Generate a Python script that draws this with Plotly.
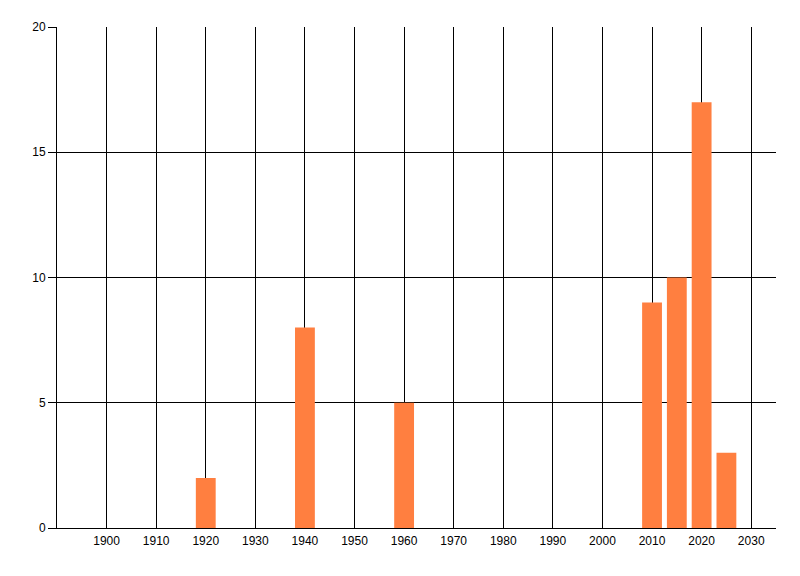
import plotly.graph_objects as go

years = [1920, 1940, 1960, 2010, 2015, 2020, 2025]
counts = [2, 8, 5, 9, 10, 17, 3]
x_ticks = [1900, 1910, 1920, 1930, 1940, 1950, 1960, 1970, 1980, 1990, 2000, 2010, 2020, 2030]
y_ticks = [0, 5, 10, 15, 20]

fig = go.Figure(go.Bar(x=years, y=counts, width=4, marker=dict(color="#FF7F40", line=dict(width=0))))

font = dict(family="Liberation Sans, Arial, sans-serif", size=12, color="#000000")
# page body has an 8px default margin, so the figure is 784x560 with offsets compensated
fig.update_layout(
    width=784, height=560,
    margin=dict(l=49, r=16, t=19, b=40, autoexpand=False),
    paper_bgcolor="white", plot_bgcolor="white",
    showlegend=False, font=font,
    xaxis=dict(range=[1890, 2035], tickvals=x_ticks, ticktext=[str(v) for v in x_ticks],
               showgrid=True, gridcolor="black", gridwidth=1, zeroline=False, automargin=False,
               showline=True, linecolor="black", linewidth=1, ticks="", tickfont=font,
               ticklabelstandoff=2),
    yaxis=dict(range=[0, 20], tickvals=y_ticks, showgrid=True, gridcolor="black", gridwidth=1,
               zeroline=False, showline=True, linecolor="black", linewidth=1, automargin=False,
               ticks="outside", ticklen=8, tickcolor="black", tickfont=font),
)
fig.write_html("out.html")
